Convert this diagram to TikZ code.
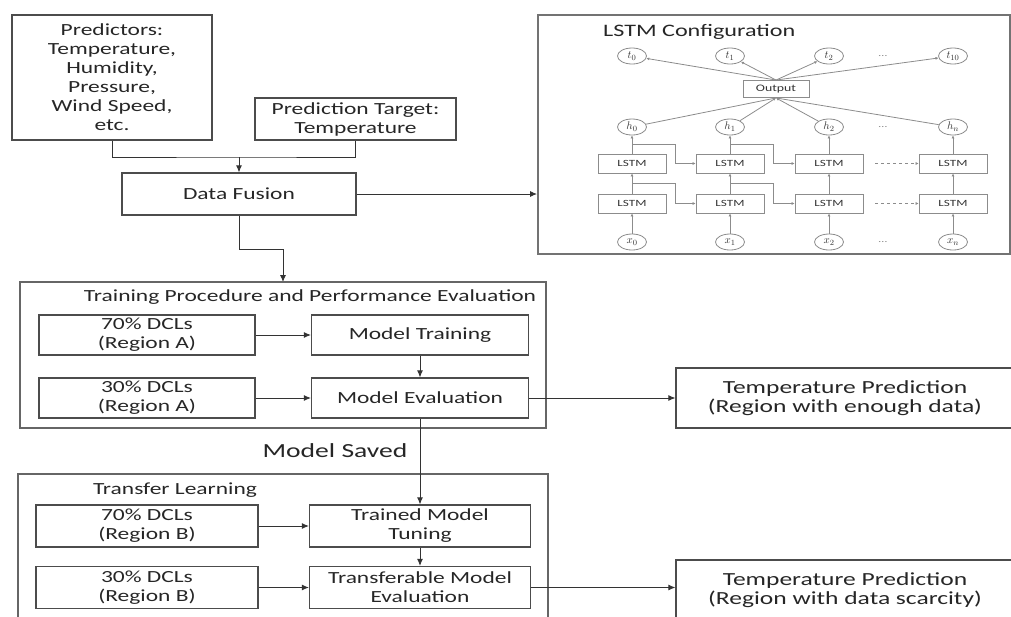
\documentclass[tikz,border=0pt]{standalone}
\usepackage{fontspec}
\setmainfont{Carlito}[FakeStretch=1.38]
\usetikzlibrary{positioning,arrows.meta,calc,shapes.geometric}

\begin{document}
\begin{tikzpicture}[x=1pt,y=-1pt,>={Latex[length=7pt,width=6pt]},
  box/.style={draw=black!70,line width=1.2pt,text=black!85,align=center,inner sep=0pt,
    font=\fontsize{17}{19}\selectfont},
  grp/.style={draw=black!60,line width=1.6pt,inner sep=0pt},
  ttl/.style={text=black!85,inner sep=0pt,font=\fontsize{17}{20}\selectfont},
  cell/.style={draw=black!45,line width=0.9pt,minimum width=68pt,minimum height=19pt,inner sep=0pt,
    text=black!80,font=\fontsize{9.5}{11}\selectfont},
  var/.style={ellipse,draw=black!45,line width=0.8pt,minimum width=29pt,minimum height=16pt,inner sep=0pt,
    text=black!80,font=\fontsize{11}{12}\selectfont},
  gline/.style={draw=black!45,line width=0.8pt,-{Latex[length=3pt,width=3pt]}},
  link/.style={draw=black!80,line width=0.9pt}]
  \useasboundingbox (0,0) rectangle (1011,616);
  \clip (0,0) rectangle (1011,616);
  % 入力データ
  \node[box,minimum width=200pt,minimum height=125pt] (pred) at (112,77.5)
    {Predictors:\\Temperature,\\Humidity,\\Pressure,\\Wind Speed,\\etc.};
  \node[box,minimum width=201pt,minimum height=42pt] (target) at (355.5,119)
    {Prediction Target:\\Temperature};
  \node[box,minimum width=234pt,minimum height=42pt] (fusion) at (239,194) {Data Fusion};
  \coordinate (join) at (239,157);
  \draw[link] (pred.south) |- (join) -| (target.south);
  \draw[link,->] (join) -- (fusion.north);
  % LSTM 構成
  \node[grp,draw=black!55,line width=2pt,minimum width=472pt,minimum height=239pt] (lstm) at (774,134.5) {};
  \node[ttl,anchor=west,font=\fontsize{17.5}{20}\selectfont] (lstmtitle) at (603,32) {LSTM Configuration};
  \draw[link,->] (fusion.east) -- (fusion.east -| lstm.west);
  \node[cell,minimum width=66pt,minimum height=17pt,font=\fontsize{10}{12}\selectfont] (out) at (776,89) {Output};
  \foreach \i/\cx/\s/\r in {0/632/0/0,1/730/1/1,2/829/2/2,n/953/10/n} {
    \node[var] (t\i) at (\cx,56) {$t_{\s}$};
    \node[var] (h\i) at (\cx,127) {$h_{\r}$};
    \node[cell] (u\i) at (\cx,163.5) {LSTM};
    \node[cell] (d\i) at (\cx,203.5) {LSTM};
    \node[var] (x\i) at (\cx,242) {$x_{\r}$};
    \draw[gline] (x\i) -- (d\i);
    \draw[gline] (d\i) -- (u\i);
    \draw[gline] (u\i) -- (h\i);
    \draw[gline] (h\i) -- (out.south);
    \draw[gline] (out.north) -- (t\i);
  }
  \foreach \r/\y in {t/56,h/127,x/242}
    \node[text=black!45,font=\small] (dots\r) at (883,\y) {\dots};
  % 再帰結合
  \foreach \i/\j in {0/1,1/2} {
    \draw[gline] ($(u\i.north)!0.5!(h\i.south)$) -| ([xshift=9pt]u\i.east) -- (u\j.west);
    \draw[gline] ($(d\i.north)!0.5!(u\i.south)$) -| ([xshift=9pt]d\i.east) -- (d\j.west);
  }
  \draw[gline,dashed] ([xshift=12pt]u2.east) -- (un.west);
  \draw[gline,dashed] ([xshift=12pt]d2.east) -- (dn.west);
  % 学習と評価
  \draw[link,->] (fusion.south) -- ++(0,34) -| (283,282);
  \node[grp,minimum width=526pt,minimum height=146pt] (train) at (283,355) {};
  \node[ttl] (traintitle) at (310,297)
    {Training Procedure and Performance Evaluation};
  \node[box,minimum width=216pt,minimum height=40pt] (dA70) at (147,335) {70\% DCLs\\(Region A)};
  \node[box,minimum width=217pt,minimum height=40pt] (mtrain) at (420,335) {Model Training};
  \node[box,minimum width=216pt,minimum height=40pt] (dA30) at (147,398) {30\% DCLs\\(Region A)};
  \node[box,minimum width=217pt,minimum height=40pt] (meval) at (420,398) {Model Evaluation};
  \draw[link,->] (dA70) -- (mtrain);
  \draw[link,->] (dA30) -- (meval);
  \draw[link,->] (mtrain) -- (meval);
  % モデル保存
  \node[ttl,font=\fontsize{20}{24}\selectfont] (saved) at (335,451) {Model Saved};
  % 転移学習
  \node[grp,minimum width=530pt,minimum height=170pt] (trans) at (283,559) {};
  \node[ttl] (transtitle) at (175,490) {Transfer Learning};
  \node[box,minimum width=222pt,minimum height=42pt] (dB70) at (147,526) {70\% DCLs\\(Region B)};
  \node[box,minimum width=221pt,minimum height=42pt] (tune) at (420,526) {Trained Model\\Tuning};
  \node[box,minimum width=222pt,minimum height=42pt] (dB30) at (147,587.5) {30\% DCLs\\(Region B)};
  \node[box,minimum width=221pt,minimum height=42pt] (teval) at (420,587.5) {Transferable Model\\Evaluation};
  \draw[link,->] (meval) -- (tune);
  \draw[link,->] (dB70) -- (tune);
  \draw[link,->] (dB30) -- (teval);
  \draw[link,->] (tune) -- (teval);
  % 予測結果
  \node[box,minimum width=338pt,minimum height=60pt,font=\fontsize{18.5}{19}\selectfont] (res1) at (845,398)
    {Temperature Prediction\\(Region with enough data)};
  \node[box,minimum width=338pt,minimum height=60pt,font=\fontsize{18.5}{19}\selectfont] (res2) at (845,590)
    {Temperature Prediction\\(Region with data scarcity)};
  \draw[link,->] (meval) -- (res1);
  \draw[link,->] (teval.east) -- (teval.east -| res2.west);
\end{tikzpicture}
\end{document}
